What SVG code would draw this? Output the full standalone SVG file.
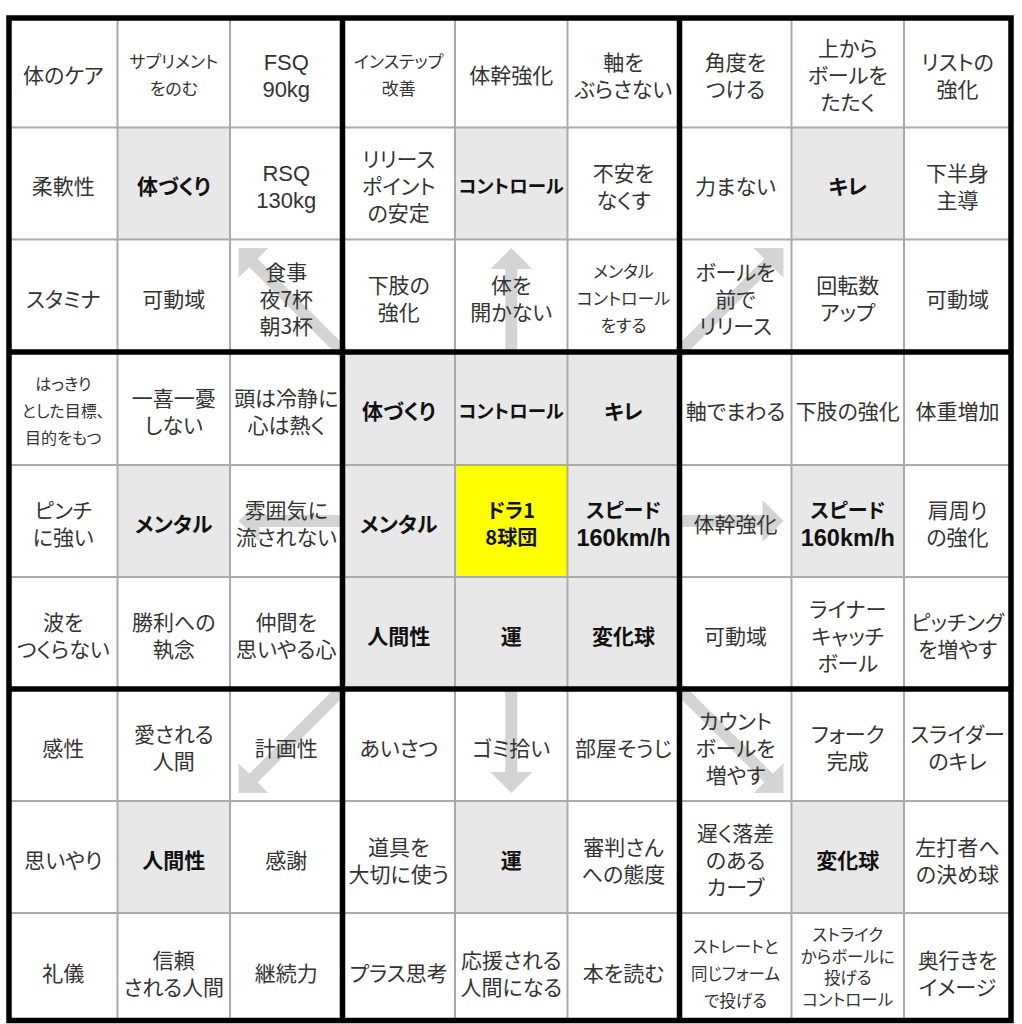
<svg xmlns="http://www.w3.org/2000/svg" width="1022" height="1024" viewBox="0 0 1022 1024">
<style>
text{font-family:"Noto Sans CJK JP","Noto Sans",sans-serif;text-anchor:middle;font-feature-settings:"palt" 1;}
.t{font-size:21px;fill:#333;}
.s17{font-size:17px;fill:#333;}
.s16{font-size:16px;fill:#333;}
.s165{font-size:16.5px;fill:#333;}
.k{font-family:"Liberation Sans",Arial,sans-serif;font-size:22px;fill:#333;}
.b{font-size:21px;font-weight:700;fill:#111;}
.b19{font-size:18.5px;font-weight:700;fill:#111;}
.bs{font-size:20px;font-weight:700;fill:#111;}
.bk{font-family:"Liberation Sans",Arial,sans-serif;font-size:23.5px;font-weight:700;fill:#111;}
rect.w{fill:none;}
rect.g{fill:#e8e8e8;}
rect.y{fill:#ffff00;}
.arrow{fill:#d4d4d4;}
.thin{stroke:#aaaaaa;stroke-width:2;fill:none;}
.thick{stroke:#000;stroke-width:5.5;fill:none;}
</style>
<defs>
<path id="aS" d="M0,-6 H83 V-21 L104,0 L83,21 V6 H0 Z"/>
<path id="aD" d="M0,-6 H126 V-21 L147,0 L126,21 V6 H0 Z"/>
</defs>
<rect x="0" y="0" width="1022" height="1024" fill="#fff"/>
<g id="connectors" class="arrow">
<use href="#aS" transform="translate(679.5,521)"/>
<use href="#aS" transform="translate(342.5,521) rotate(180)"/>
<use href="#aS" transform="translate(511.25,352) rotate(-90)"/>
<use href="#aS" transform="translate(511.25,689) rotate(90)"/>
<use href="#aD" transform="translate(342.5,352) rotate(-135)"/>
<use href="#aD" transform="translate(679.5,352) rotate(-45)"/>
<use href="#aD" transform="translate(342.5,689) rotate(135)"/>
<use href="#aD" transform="translate(679.5,689) rotate(45)"/>
</g>
<g id="cells">
<!-- row 0 -->
<g id="r0c0"><rect class="w" x="9" y="18" width="108.5" height="109.5"/><text class="t" x="63.25" y="83.1">体のケア</text></g>
<g id="r0c1"><rect class="w" x="117.5" y="18" width="112.5" height="109.5"/><text class="s17"><tspan x="173.75" y="68.2">サプリメント</tspan><tspan x="173.75" y="95.2">をのむ</tspan></text></g>
<g id="r0c2"><rect class="w" x="230" y="18" width="112.5" height="109.5"/><text class="k"><tspan x="286.25" y="69.9">FSQ</tspan><tspan x="286.25" y="96.9">90kg</tspan></text></g>
<g id="r0c3"><rect class="w" x="342.5" y="18" width="112.5" height="109.5"/><text class="s17"><tspan x="398.75" y="68.2">インステップ</tspan><tspan x="398.75" y="95.2">改善</tspan></text></g>
<g id="r0c4"><rect class="w" x="455" y="18" width="112.5" height="109.5"/><text class="t" x="511.25" y="83.1">体幹強化</text></g>
<g id="r0c5"><rect class="w" x="567.5" y="18" width="112" height="109.5"/><text class="t"><tspan x="623.5" y="69.6">軸を</tspan><tspan x="623.5" y="96.6">ぶらさない</tspan></text></g>
<g id="r0c6"><rect class="w" x="679.5" y="18" width="112" height="109.5"/><text class="t"><tspan x="735.5" y="69.6">角度を</tspan><tspan x="735.5" y="96.6">つける</tspan></text></g>
<g id="r0c7"><rect class="w" x="791.5" y="18" width="112.5" height="109.5"/><text class="t"><tspan x="847.75" y="56.1">上から</tspan><tspan x="847.75" y="83.1">ボールを</tspan><tspan x="847.75" y="110.1">たたく</tspan></text></g>
<g id="r0c8"><rect class="w" x="904" y="18" width="107" height="109.5"/><text class="t"><tspan x="957.5" y="69.6">リストの</tspan><tspan x="957.5" y="96.6">強化</tspan></text></g>
<!-- row 1 -->
<g id="r1c0"><rect class="w" x="9" y="127.5" width="108.5" height="112"/><text class="t" x="63.25" y="194.1">柔軟性</text></g>
<g id="r1c1"><rect class="g" x="117.5" y="127.5" width="112.5" height="112"/><text class="b" x="173.75" y="194.1">体づくり</text></g>
<g id="r1c2"><rect class="w" x="230" y="127.5" width="112.5" height="112"/><text class="k"><tspan x="286.25" y="180.9">RSQ</tspan><tspan x="286.25" y="207.9">130kg</tspan></text></g>
<g id="r1c3"><rect class="w" x="342.5" y="127.5" width="112.5" height="112"/><text class="t"><tspan x="398.75" y="167.1">リリース</tspan><tspan x="398.75" y="194.1">ポイント</tspan><tspan x="398.75" y="221.1">の安定</tspan></text></g>
<g id="r1c4"><rect class="g" x="455" y="127.5" width="112.5" height="112"/><text class="b19" x="511.25" y="193.1">コントロール</text></g>
<g id="r1c5"><rect class="w" x="567.5" y="127.5" width="112" height="112"/><text class="t"><tspan x="623.5" y="180.6">不安を</tspan><tspan x="623.5" y="207.6">なくす</tspan></text></g>
<g id="r1c6"><rect class="w" x="679.5" y="127.5" width="112" height="112"/><text class="t" x="735.5" y="194.1">力まない</text></g>
<g id="r1c7"><rect class="g" x="791.5" y="127.5" width="112.5" height="112"/><text class="b" x="847.75" y="194.1">キレ</text></g>
<g id="r1c8"><rect class="w" x="904" y="127.5" width="107" height="112"/><text class="t"><tspan x="957.5" y="180.6">下半身</tspan><tspan x="957.5" y="207.6">主導</tspan></text></g>
<!-- row 2 -->
<g id="r2c0"><rect class="w" x="9" y="239.5" width="108.5" height="112.5"/><text class="t" x="63.25" y="306.6">スタミナ</text></g>
<g id="r2c1"><rect class="w" x="117.5" y="239.5" width="112.5" height="112.5"/><text class="t" x="173.75" y="306.6">可動域</text></g>
<g id="r2c2"><rect class="w" x="230" y="239.5" width="112.5" height="112.5"/><text class="t"><tspan x="286.25" y="279.6">食事</tspan><tspan x="286.25" y="306.6">夜7杯</tspan><tspan x="286.25" y="333.6">朝3杯</tspan></text></g>
<g id="r2c3"><rect class="w" x="342.5" y="239.5" width="112.5" height="112.5"/><text class="t"><tspan x="398.75" y="293.1">下肢の</tspan><tspan x="398.75" y="320.1">強化</tspan></text></g>
<g id="r2c4"><rect class="w" x="455" y="239.5" width="112.5" height="112.5"/><text class="t"><tspan x="511.25" y="293.1">体を</tspan><tspan x="511.25" y="320.1">開かない</tspan></text></g>
<g id="r2c5"><rect class="w" x="567.5" y="239.5" width="112" height="112.5"/><text class="s17"><tspan x="623.5" y="278.2">メンタル</tspan><tspan x="623.5" y="305.2">コントロール</tspan><tspan x="623.5" y="332.2">をする</tspan></text></g>
<g id="r2c6"><rect class="w" x="679.5" y="239.5" width="112" height="112.5"/><text class="t"><tspan x="735.5" y="279.6">ボールを</tspan><tspan x="735.5" y="306.6">前で</tspan><tspan x="735.5" y="333.6">リリース</tspan></text></g>
<g id="r2c7"><rect class="w" x="791.5" y="239.5" width="112.5" height="112.5"/><text class="t"><tspan x="847.75" y="293.1">回転数</tspan><tspan x="847.75" y="320.1">アップ</tspan></text></g>
<g id="r2c8"><rect class="w" x="904" y="239.5" width="107" height="112.5"/><text class="t" x="957.5" y="306.6">可動域</text></g>
<!-- row 3 -->
<g id="r3c0"><rect class="w" x="9" y="352" width="108.5" height="113"/><text class="s16"><tspan x="63.25" y="390.3">はっきり</tspan><tspan x="63.25" y="417.3">とした目標、</tspan><tspan x="63.25" y="444.3">目的をもつ</tspan></text></g>
<g id="r3c1"><rect class="w" x="117.5" y="352" width="112.5" height="113"/><text class="t"><tspan x="173.75" y="405.6">一喜一憂</tspan><tspan x="173.75" y="432.6">しない</tspan></text></g>
<g id="r3c2"><rect class="w" x="230" y="352" width="112.5" height="113"/><text class="t"><tspan x="286.25" y="405.6">頭は冷静に</tspan><tspan x="286.25" y="432.6">心は熱く</tspan></text></g>
<g id="r3c3"><rect class="g" x="342.5" y="352" width="112.5" height="113"/><text class="b" x="398.75" y="419.1">体づくり</text></g>
<g id="r3c4"><rect class="g" x="455" y="352" width="112.5" height="113"/><text class="b19" x="511.25" y="418.1">コントロール</text></g>
<g id="r3c5"><rect class="g" x="567.5" y="352" width="112" height="113"/><text class="b" x="623.5" y="419.1">キレ</text></g>
<g id="r3c6"><rect class="w" x="679.5" y="352" width="112" height="113"/><text class="t" x="735.5" y="419.1">軸でまわる</text></g>
<g id="r3c7"><rect class="w" x="791.5" y="352" width="112.5" height="113"/><text class="t" x="847.75" y="419.1">下肢の強化</text></g>
<g id="r3c8"><rect class="w" x="904" y="352" width="107" height="113"/><text class="t" x="957.5" y="419.1">体重増加</text></g>
<!-- row 4 -->
<g id="r4c0"><rect class="w" x="9" y="465" width="108.5" height="112"/><text class="t"><tspan x="63.25" y="518.1">ピンチ</tspan><tspan x="63.25" y="545.1">に強い</tspan></text></g>
<g id="r4c1"><rect class="g" x="117.5" y="465" width="112.5" height="112"/><text class="b" x="173.75" y="531.6">メンタル</text></g>
<g id="r4c2"><rect class="w" x="230" y="465" width="112.5" height="112"/><text class="t"><tspan x="286.25" y="518.1">雰囲気に</tspan><tspan x="286.25" y="545.1">流されない</tspan></text></g>
<g id="r4c3"><rect class="g" x="342.5" y="465" width="112.5" height="112"/><text class="b" x="398.75" y="531.6">メンタル</text></g>
<g id="r4c4"><rect class="y" x="455" y="465" width="112.5" height="112"/><text class="bs"><tspan x="511.25" y="517.7">ドラ1</tspan><tspan x="511.25" y="545.1">8球団</tspan></text></g>
<g id="r4c5"><rect class="g" x="567.5" y="465" width="112" height="112"/><text class="bs"><tspan x="623.5" y="517.7">スピード</tspan><tspan class="bk" x="623.5" y="545.9">160km/h</tspan></text></g>
<g id="r4c6"><rect class="w" x="679.5" y="465" width="112" height="112"/><text class="t" x="735.5" y="531.6">体幹強化</text></g>
<g id="r4c7"><rect class="g" x="791.5" y="465" width="112.5" height="112"/><text class="bs"><tspan x="847.75" y="517.7">スピード</tspan><tspan class="bk" x="847.75" y="545.9">160km/h</tspan></text></g>
<g id="r4c8"><rect class="w" x="904" y="465" width="107" height="112"/><text class="t"><tspan x="957.5" y="518.1">肩周り</tspan><tspan x="957.5" y="545.1">の強化</tspan></text></g>
<!-- row 5 -->
<g id="r5c0"><rect class="w" x="9" y="577" width="108.5" height="112"/><text class="t"><tspan x="63.25" y="630.1">波を</tspan><tspan x="63.25" y="657.1">つくらない</tspan></text></g>
<g id="r5c1"><rect class="w" x="117.5" y="577" width="112.5" height="112"/><text class="t"><tspan x="173.75" y="630.1">勝利への</tspan><tspan x="173.75" y="657.1">執念</tspan></text></g>
<g id="r5c2"><rect class="w" x="230" y="577" width="112.5" height="112"/><text class="t"><tspan x="286.25" y="630.1">仲間を</tspan><tspan x="286.25" y="657.1">思いやる心</tspan></text></g>
<g id="r5c3"><rect class="g" x="342.5" y="577" width="112.5" height="112"/><text class="b" x="398.75" y="643.6">人間性</text></g>
<g id="r5c4"><rect class="g" x="455" y="577" width="112.5" height="112"/><text class="b" x="511.25" y="643.6">運</text></g>
<g id="r5c5"><rect class="g" x="567.5" y="577" width="112" height="112"/><text class="b" x="623.5" y="643.6">変化球</text></g>
<g id="r5c6"><rect class="w" x="679.5" y="577" width="112" height="112"/><text class="t" x="735.5" y="643.6">可動域</text></g>
<g id="r5c7"><rect class="w" x="791.5" y="577" width="112.5" height="112"/><text class="t"><tspan x="847.75" y="616.6">ライナー</tspan><tspan x="847.75" y="643.6">キャッチ</tspan><tspan x="847.75" y="670.6">ボール</tspan></text></g>
<g id="r5c8"><rect class="w" x="904" y="577" width="107" height="112"/><text class="t"><tspan x="957.5" y="630.1">ピッチング</tspan><tspan x="957.5" y="657.1">を増やす</tspan></text></g>
<!-- row 6 -->
<g id="r6c0"><rect class="w" x="9" y="689" width="108.5" height="112"/><text class="t" x="63.25" y="755.6">感性</text></g>
<g id="r6c1"><rect class="w" x="117.5" y="689" width="112.5" height="112"/><text class="t"><tspan x="173.75" y="742.1">愛される</tspan><tspan x="173.75" y="769.1">人間</tspan></text></g>
<g id="r6c2"><rect class="w" x="230" y="689" width="112.5" height="112"/><text class="t" x="286.25" y="755.6">計画性</text></g>
<g id="r6c3"><rect class="w" x="342.5" y="689" width="112.5" height="112"/><text class="t" x="398.75" y="755.6">あいさつ</text></g>
<g id="r6c4"><rect class="w" x="455" y="689" width="112.5" height="112"/><text class="t" x="511.25" y="755.6">ゴミ拾い</text></g>
<g id="r6c5"><rect class="w" x="567.5" y="689" width="112" height="112"/><text class="t" x="623.5" y="755.6">部屋そうじ</text></g>
<g id="r6c6"><rect class="w" x="679.5" y="689" width="112" height="112"/><text class="t"><tspan x="735.5" y="728.6">カウント</tspan><tspan x="735.5" y="755.6">ボールを</tspan><tspan x="735.5" y="782.6">増やす</tspan></text></g>
<g id="r6c7"><rect class="w" x="791.5" y="689" width="112.5" height="112"/><text class="t"><tspan x="847.75" y="742.1">フォーク</tspan><tspan x="847.75" y="769.1">完成</tspan></text></g>
<g id="r6c8"><rect class="w" x="904" y="689" width="107" height="112"/><text class="t"><tspan x="957.5" y="742.1">スライダー</tspan><tspan x="957.5" y="769.1">のキレ</tspan></text></g>
<!-- row 7 -->
<g id="r7c0"><rect class="w" x="9" y="801" width="108.5" height="112"/><text class="t" x="63.25" y="868.1">思いやり</text></g>
<g id="r7c1"><rect class="g" x="117.5" y="801" width="112.5" height="112"/><text class="b" x="173.75" y="868.1">人間性</text></g>
<g id="r7c2"><rect class="w" x="230" y="801" width="112.5" height="112"/><text class="t" x="286.25" y="868.1">感謝</text></g>
<g id="r7c3"><rect class="w" x="342.5" y="801" width="112.5" height="112"/><text class="t"><tspan x="398.75" y="854.6">道具を</tspan><tspan x="398.75" y="881.6">大切に使う</tspan></text></g>
<g id="r7c4"><rect class="g" x="455" y="801" width="112.5" height="112"/><text class="b" x="511.25" y="868.1">運</text></g>
<g id="r7c5"><rect class="w" x="567.5" y="801" width="112" height="112"/><text class="t"><tspan x="623.5" y="854.6">審判さん</tspan><tspan x="623.5" y="881.6">への態度</tspan></text></g>
<g id="r7c6"><rect class="w" x="679.5" y="801" width="112" height="112"/><text class="t"><tspan x="735.5" y="841.1">遅く落差</tspan><tspan x="735.5" y="868.1">のある</tspan><tspan x="735.5" y="895.1">カーブ</tspan></text></g>
<g id="r7c7"><rect class="g" x="791.5" y="801" width="112.5" height="112"/><text class="b" x="847.75" y="868.1">変化球</text></g>
<g id="r7c8"><rect class="w" x="904" y="801" width="107" height="112"/><text class="t"><tspan x="957.5" y="854.6">左打者へ</tspan><tspan x="957.5" y="881.6">の決め球</tspan></text></g>
<!-- row 8 -->
<g id="r8c0"><rect class="w" x="9" y="913" width="108.5" height="107.5"/><text class="t" x="63.25" y="981.1">礼儀</text></g>
<g id="r8c1"><rect class="w" x="117.5" y="913" width="112.5" height="107.5"/><text class="t"><tspan x="173.75" y="967.6">信頼</tspan><tspan x="173.75" y="994.6">される人間</tspan></text></g>
<g id="r8c2"><rect class="w" x="230" y="913" width="112.5" height="107.5"/><text class="t" x="286.25" y="981.1">継続力</text></g>
<g id="r8c3"><rect class="w" x="342.5" y="913" width="112.5" height="107.5"/><text class="t" x="398.75" y="981.1">プラス思考</text></g>
<g id="r8c4"><rect class="w" x="455" y="913" width="112.5" height="107.5"/><text class="t"><tspan x="511.25" y="967.6">応援される</tspan><tspan x="511.25" y="994.6">人間になる</tspan></text></g>
<g id="r8c5"><rect class="w" x="567.5" y="913" width="112" height="107.5"/><text class="t" x="623.5" y="981.1">本を読む</text></g>
<g id="r8c6"><rect class="w" x="679.5" y="913" width="112" height="107.5"/><text class="s165"><tspan x="735.5" y="952.5">ストレートと</tspan><tspan x="735.5" y="979.5">同じフォーム</tspan><tspan x="735.5" y="1006.5">で投げる</tspan></text></g>
<g id="r8c7"><rect class="w" x="791.5" y="913" width="112.5" height="107.5"/><text class="s165"><tspan x="847.75" y="941.1">ストライク</tspan><tspan x="847.75" y="962.6">からボールに</tspan><tspan x="847.75" y="984.1">投げる</tspan><tspan x="847.75" y="1005.6">コントロール</tspan></text></g>
<g id="r8c8"><rect class="w" x="904" y="913" width="107" height="107.5"/><text class="t"><tspan x="957.5" y="967.6">奥行きを</tspan><tspan x="957.5" y="994.6">イメージ</tspan></text></g>
</g>
<g id="grid">
<path class="thin" d="M117.5,18V1020.5 M230,18V1020.5 M455,18V1020.5 M567.5,18V1020.5 M791.5,18V1020.5 M904,18V1020.5 M9,127.5H1011 M9,239.5H1011 M9,465H1011 M9,577H1011 M9,801H1011 M9,913H1011"/>
<path class="thick" d="M342.5,18V1020.5 M679.5,18V1020.5 M9,352H1011 M9,689H1011"/>
<rect class="thick" x="9" y="18" width="1002" height="1002.5"/>
</g>
</svg>
